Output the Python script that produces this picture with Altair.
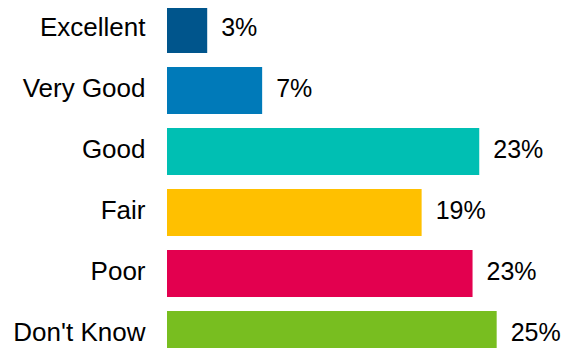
import altair as alt
import pandas as pd

categories = ["Excellent", "Very Good", "Good", "Fair", "Poor", "Don't Know"]
values = [3.0, 7.1, 23.3, 19.0, 22.8, 24.6]
labels = ["3%", "7%", "23%", "19%", "23%", "25%"]
colors = ["#00558C", "#007AB9", "#00BFB3", "#FFC000", "#E3004F", "#78BE20"]

df = pd.DataFrame({"category": categories, "value": values, "label": labels})

FONT = "Liberation Sans"

y = alt.Y(
    "category:N",
    sort=categories,
    scale=alt.Scale(domain=categories, range=[-9, 357], paddingInner=14 / 61, paddingOuter=7 / 61),
    axis=alt.Axis(title=None, domain=False, ticks=False, labelFontSize=26, labelFont=FONT,
                  labelColor="#000000", labelPadding=22, labelOffset=-2),
)
x = alt.X("value:Q", scale=alt.Scale(domain=[0, 29.4], nice=False), axis=None)

bars = alt.Chart(df).mark_bar().encode(
    x=x,
    y=y,
    color=alt.Color("category:N", scale=alt.Scale(domain=categories, range=colors), legend=None),
)

text = alt.Chart(df).mark_text(align="left", baseline="middle", dx=14, dy=-2, fontSize=25, font=FONT,
                               color="#000000").encode(
    x=x,
    y=y,
    text="label:N",
)

chart = (bars + text).properties(
    width=394,
    height=340,
    autosize=alt.AutoSizeParams(type="none"),
    padding={"left": 159, "top": 0, "right": 0, "bottom": 0},
).configure_view(stroke=None)

chart.save("out.html", embed_options={"renderer": "svg", "actions": False})
